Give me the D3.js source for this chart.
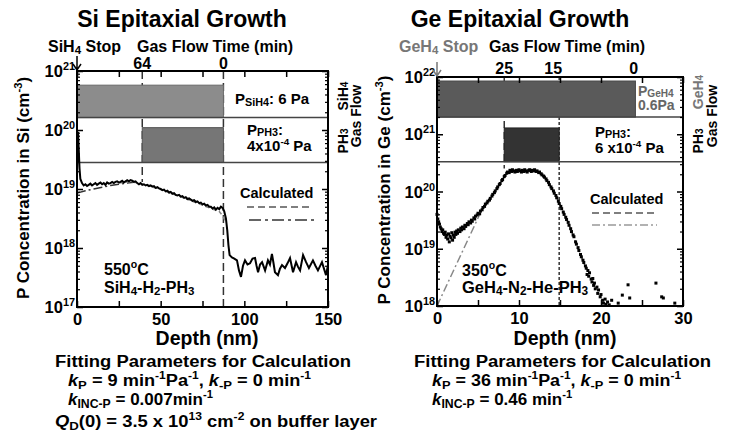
<!DOCTYPE html>
<html lang="en">
<head>
<meta charset="UTF-8">
<title>P doping in Si and Ge epitaxial growth</title>
<script src="https://d3js.org/d3.v7.min.js"></script>
<style>
    body{margin:0;background:#fff;}
    svg{display:block;font-family:"Liberation Sans",Arial,sans-serif;font-weight:bold;}
</style>
</head>
<body>
<svg width="731" height="443"></svg>
<script>
// measured SIMS profiles: [depth (nm), log10 P concentration (cm-3)]
let siMeasured = [[0,19.3],[0.3,19.8],[0.6,19.97],[1,19.7],[1.5,19.35],[2,19.17],[3,19.1],[4,19.06],[5,19.08],[6,19.05],
    [7,19.07],[8,19.09],[9,19.06],[10,19.08],[11,19.1],[12,19.07],[13,19.09],[14,19.11],[15,19.08],[16,19.1],
    [17,19.07],[18,19.11],[19,19.09],[20,19.1],[21,19.12],[22,19.1],[23,19.12],[24,19.13],[25,19.11],[26,19.12],
    [27,19.14],[28,19.11],[29,19.13],[30,19.15],[31,19.13],[32,19.15],[33,19.14],[34,19.12],[35,19.13],[36,19.1],
    [37,19.08],[38,19.1],[39,19.07],[40,19.08],[41,19.06],[42,19.07],[43,19.05],[44,19.06],[45,19.04],[46,19.05],
    [47,19.02],[48,19.03],[49,19.01],[50,19.0],[51,18.98],[52,18.99],[53,18.96],[54,18.97],[55,18.94],[56,18.95],
    [57,18.92],[58,18.93],[59,18.9],[60,18.89],[61,18.9],[62,18.87],[63,18.88],[64,18.85],[65,18.86],[66,18.83],
    [67,18.84],[68,18.82],[69,18.8],[70,18.81],[71,18.78],[72,18.79],[73,18.76],[74,18.77],[75,18.74],[76,18.75],
    [77,18.72],[78,18.73],[79,18.7],[80,18.7],[81,18.67],[82,18.69],[83,18.65],[84,18.68],[85,18.66],[86,18.7],
    [87,18.68],[88,18.62],[89,18.5],[89.8,18.3],[90.5,18.05],[91.2,17.88],[92.6,17.84],[94,17.82],[95.6,17.79],[96.8,17.62],
    [98,17.51],[99.2,17.7],[100.4,17.79],[101.9,17.72],[103.4,17.74],[104.9,17.82],[106.4,17.83],[107.3,17.7],[108.2,17.59],[109.4,17.72],
    [110.6,17.76],[112.4,17.62],[114.1,17.79],[115.3,17.72],[116.5,17.9],[117.4,17.75],[118.3,17.59],[120.1,17.54],[121.3,17.65],[122.5,17.71],
    [124.3,17.66],[125.8,17.74],[127.3,17.83],[129.1,17.59],[130.9,17.76],[132.1,17.68],[133.3,17.62],[135.1,17.88],[136.9,17.76],[138.6,17.66],
    [141,17.79],[142.5,17.7],[144,17.62],[146.4,17.76],[148.8,17.54],[150,17.71]];

let geMeasured = [[0,19.60],[0.1,19.52],[0.2,19.47],[0.3,19.43],[0.4,19.38],[0.5,19.35],[0.6,19.30],[0.7,19.33],[0.8,19.27],[0.9,19.25],
    [1.0,19.29],[1.1,19.20],[1.2,19.24],[1.3,19.17],[1.4,19.26],[1.5,19.12],[1.6,19.22],[1.7,19.19],[1.8,19.28],[1.9,19.15],
    [2.0,19.24],[2.1,19.20],[2.2,19.29],[2.3,19.25],[2.4,19.31],[2.5,19.27],[2.6,19.33],[2.8,19.30],[2.9,19.36],[3.0,19.33],
    [3.1,19.38],[3.3,19.35],[3.4,19.41],[3.5,19.39],[3.7,19.44],[3.8,19.42],[3.9,19.47],[4.1,19.45],[4.2,19.50],[4.3,19.48],
    [4.5,19.54],[4.6,19.52],[4.7,19.57],[4.9,19.59],[5.0,19.62],[5.2,19.61],[5.3,19.66],[5.5,19.68],[5.6,19.72],[5.8,19.74],
    [5.9,19.78],[6.1,19.80],[6.2,19.83],[6.4,19.85],[6.5,19.88],[6.7,19.92],[6.8,19.95],[7.0,19.98],[7.1,20.01],[7.3,20.05],
    [7.4,20.08],[7.6,20.12],[7.7,20.14],[7.9,20.19],[8.0,20.21],[8.2,20.26],[8.3,20.28],[8.5,20.32],[8.6,20.34],[8.8,20.33],
    [8.9,20.37],[9.1,20.35],[9.2,20.38],[9.4,20.36],[9.5,20.34],[9.7,20.37],[9.8,20.35],[10.0,20.38],[10.1,20.36],[10.3,20.34],
    [10.4,20.37],[10.6,20.35],[10.7,20.38],[10.9,20.36],[11.0,20.34],[11.2,20.37],[11.3,20.38],[11.5,20.35],[11.6,20.37],[11.8,20.36],
    [11.9,20.38],[12.1,20.35],[12.2,20.36],[12.4,20.33],[12.5,20.34],[12.7,20.31],[12.8,20.29],[13.0,20.27],[13.1,20.25],[13.3,20.22],
    [13.4,20.19],[13.6,20.16],[13.7,20.12],[13.9,20.08],[14.0,20.05],[14.2,20.01],[14.3,19.97],[14.5,19.93],[14.6,19.89],[14.8,19.83],
    [14.9,19.79],[15.1,19.74],[15.2,19.70],[15.4,19.64],[15.5,19.60],[15.7,19.55],[15.8,19.51],[16.0,19.46],[16.1,19.41],[16.3,19.35],
    [16.4,19.30],[16.6,19.24],[16.7,19.21],[16.9,19.12],[17.0,19.08],[17.2,19.02],[17.3,18.97],[17.5,18.90],[17.6,18.86],[17.8,18.80],
    [17.9,18.76],[18.1,18.70],[18.2,18.66],[18.3,18.55],[18.4,18.62],[18.5,18.52],[18.6,18.58],[18.8,18.47],[18.9,18.42],[19.0,18.48],
    [19.1,18.36],[19.2,18.40],[19.3,18.30],[19.5,18.33],[19.6,18.22],[19.7,18.28],[19.9,18.16],[20.0,18.20],[20.2,18.10],[20.3,18.05],
    [20.5,18.12],[20.6,18.03],[20.8,18.07],[21.0,18.02],[21.3,18.10],[22.1,18.05],[22.6,18.19],[23.3,18.37],[23.5,18.14],[26.7,18.40],
    [27.4,18.16],[27.6,18.14],[29.0,18.05]];

// calculated profiles: [depth (nm), log10 P concentration]
let siCalcDashDot = [[0,18.93],[5,18.97],[10,19.0],[15,19.03],[20,19.06],[25,19.08],[30,19.1],[36,19.12]];
let siCalcDashed = [[25,19.1],[30,19.12],[35,19.11],[40,19.08],[50,18.99],[60,18.89],[70,18.78],[80,18.67],[85,18.62],[87,18.55],[88.5,18.46]];
let geCalcDashDot = [[0,18.0],[5.6,19.72]];
let geCalcDashed = [[5.6,19.72],[6,19.78],[7,19.98],[8,20.21],[8.5,20.31],[9,20.35],[10,20.36],[11,20.36],[12,20.35],[12.5,20.33],
    [13,20.27],[13.5,20.18],[14,20.05],[14.5,19.92],[15,19.77],[15.5,19.61],[16,19.46],[16.5,19.27],[17,19.08],[17.5,18.9],[18,18.72]];

// gas flow time markers (min) and the depth where each lands
let siTimeLabels = ["64", "0"];
let siTimeDepth = [39, 87.5];
let geTimeLabels = ["25", "15", "0"];
let geTimeDepth = [8.2, 14.9, 24];

// gas flow bars: depth range and log10 band on the concentration axis
let siBars = [{gas: "SiH4", d: [0, 87.5], c: [20.21, 20.76]}, {gas: "PH3", d: [39, 87.5], c: [19.45, 20.04]}];
let geBars = [{gas: "GeH4", d: [0, 24.2], c: [21.30, 21.93]}, {gas: "PH3", d: [8.2, 14.9], c: [20.52, 21.11]}];

let svg = d3.select('svg');

// text with sub / superscripts and italics
function rich(g, x, y, parts, o) {
    o = o || {};
    let size = o.size || 14;
    let subK = o.subShift == null ? 0.28 : o.subShift;
    let t = g.append('text').attr('x', x).attr('y', y).attr('font-size', size).attr('fill', o.fill || '#000');
    if (o.anchor) t.attr('text-anchor', o.anchor);
    if (o.rotate) t.attr('transform', 'rotate(-90,' + x + ',' + y + ')');
    if (o.width) t.attr('textLength', o.width).attr('lengthAdjust', 'spacingAndGlyphs');
    let shift = 0;
    parts.forEach(function (p) {
        if (typeof p === 'string') p = {t: p};
        let target = 0, fs = size;
        if (p.sub) { target = size * subK; fs = size * 0.72; }
        if (p.sup) { target = -size * 0.42; fs = size * 0.66; }
        let s = t.append('tspan').text(p.t).attr('dy', target - shift).attr('font-size', fs);
        if (p.it) s.attr('font-style', 'italic');
        if (p.fill) s.attr('fill', p.fill);
        shift = target;
    });
    return t;
}

function drawPanel(cfg) {
    let g = svg.append('g');
    let x = d3.scaleLinear().domain(cfg.xDomain).range([cfg.left, cfg.right]);
    let y = d3.scaleLog().domain(cfg.yDomain).range([cfg.bottom, cfg.top]);
    let Y = function (v) { return y(Math.pow(10, v)); };

    // vertical markers for gas switching
    cfg.timeDepth.forEach(function (d, i) {
        g.append('line').attr('x1', x(d)).attr('x2', x(d))
            .attr('y1', cfg.top).attr('y2', cfg.markEnd[i] == null ? cfg.bottom : Y(cfg.markEnd[i]))
            .attr('stroke', '#333').attr('stroke-width', 1.5).attr('stroke-dasharray', cfg.markDash[i]);
    });

    // gas flow bars
    cfg.bars.forEach(function (b, i) {
        g.append('rect').attr('x', x(b.d[0])).attr('width', x(b.d[1]) - x(b.d[0]))
            .attr('y', Y(b.c[1])).attr('height', Y(b.c[0]) - Y(b.c[1]))
            .attr('fill', cfg.barFill[i]).attr('stroke', cfg.barStroke[i]).attr('stroke-width', 1);
        g.append('line').attr('x1', cfg.left).attr('x2', cfg.right)
            .attr('y1', Y(b.c[0])).attr('y2', Y(b.c[0]))
            .attr('stroke', '#444').attr('stroke-width', 1.5);
    });

    let line = d3.line().x(function (d) { return x(d[0]); }).y(function (d) { return Y(d[1]); });
    return {g: g, x: x, y: y, Y: Y, line: line};
}

function drawAxes(p, cfg) {
    let g = p.g;
    let decades = d3.range(Math.log10(cfg.yDomain[0]), Math.log10(cfg.yDomain[1]) + 1).map(function (e) { return Math.pow(10, e); });
    let minors = [];
    decades.slice(0, -1).forEach(function (d) { for (let k = 2; k < 10; k++) minors.push(d * k); });
    let xt = d3.range(cfg.xDomain[0], cfg.xDomain[1] + 0.001, cfg.xTick);

    [['axisLeft', cfg.left], ['axisRight', cfg.right]].forEach(function (a) {
        g.append('g').attr('transform', 'translate(' + a[1] + ',0)')
            .call(d3[a[0]](p.y).tickValues(minors).tickSize(-3).tickFormat(''))
            .call(function (s) { s.select('.domain').remove(); s.selectAll('line').attr('stroke-width', 1.2); });
        g.append('g').attr('transform', 'translate(' + a[1] + ',0)')
            .call(d3[a[0]](p.y).tickValues(decades).tickSize(-6).tickFormat(''))
            .call(function (s) { s.select('.domain').remove(); s.selectAll('line').attr('stroke-width', 1.5); });
    });
    [['axisBottom', cfg.bottom], ['axisTop', cfg.top]].forEach(function (a) {
        g.append('g').attr('transform', 'translate(0,' + a[1] + ')')
            .call(d3[a[0]](p.x).tickValues(xt).tickSize(-6).tickFormat(''))
            .call(function (s) { s.select('.domain').remove(); s.selectAll('line').attr('stroke-width', 1.5); });
    });
    g.append('rect').attr('x', cfg.left).attr('y', cfg.top)
        .attr('width', cfg.right - cfg.left).attr('height', cfg.bottom - cfg.top)
        .attr('fill', 'none').attr('stroke', '#000').attr('stroke-width', 2);

    // depth labels
    g.append('g').attr('transform', 'translate(0,' + cfg.bottom + ')')
        .call(d3.axisBottom(p.x).tickValues(d3.range(cfg.xDomain[0], cfg.xDomain[1] + 0.001, cfg.xLabelStep)).tickSize(0).tickPadding(6))
        .call(function (s) {
            s.select('.domain').remove();
            s.selectAll('text').attr('font-size', 16.5).attr('font-family', null).attr('fill', '#000');
        });
    // 10^n labels
    decades.forEach(function (d) {
        rich(g, cfg.left - 2, p.y(d) + 6, ['10', {t: String(Math.round(Math.log10(d))), sup: true}], {size: 16.5, anchor: 'end'});
    });
}

// ---------- Si panel ----------
let siCfg = {left: 77, right: 328, top: 71, bottom: 307, xDomain: [0, 150], yDomain: [1e17, 1e21],
    xTick: 25, xLabelStep: 50, timeDepth: siTimeDepth, markEnd: [19.12, null], markDash: ['8,4', '8,4'],
    bars: siBars, barFill: ['#8c8c8c', '#767676'], barStroke: ['#6a6a6a', '#555']};
let si = drawPanel(siCfg);
si.g.append('path').datum(siCalcDashDot).attr('d', si.line).attr('fill', 'none')
    .attr('stroke', '#333').attr('stroke-width', 1.5).attr('stroke-dasharray', '9,3,2,3');
si.g.append('path').datum(siCalcDashed).attr('d', si.line).attr('fill', 'none')
    .attr('stroke', '#888').attr('stroke-width', 1.5).attr('stroke-dasharray', '4,3');
si.g.append('path').datum(siMeasured).attr('d', si.line).attr('fill', 'none')
    .attr('stroke', '#000').attr('stroke-width', 2);
drawAxes(si, siCfg);

// ---------- Ge panel ----------
let geCfg = {left: 437, right: 683, top: 77, bottom: 306, xDomain: [0, 30], yDomain: [1e18, 1e22],
    xTick: 5, xLabelStep: 10, timeDepth: geTimeDepth.slice(0, 2), markEnd: [20.4, null], markDash: ['7,4', '3,2'],
    bars: geBars, barFill: ['#5a5a5a', '#333'], barStroke: ['#4a4a4a', '#222']};
let ge = drawPanel(geCfg);
ge.g.append('path').datum(geCalcDashDot).attr('d', ge.line).attr('fill', 'none')
    .attr('stroke', '#888').attr('stroke-width', 1.5).attr('stroke-dasharray', '8,3,2,3');
ge.g.append('path').datum(geCalcDashed).attr('d', ge.line).attr('fill', 'none')
    .attr('stroke', '#555').attr('stroke-width', 1.5).attr('stroke-dasharray', '5,3');
ge.g.selectAll('rect.pt').data(geMeasured).enter().append('rect').attr('class', 'pt')
    .attr('x', function (d) { return ge.x(d[0]) - 1.5; })
    .attr('y', function (d) { return ge.Y(d[1]) - 1.5; })
    .attr('width', 3).attr('height', 3).attr('fill', '#000');
drawAxes(ge, geCfg);

// ---------- titles and annotations ----------
let T = svg.append('g');
T.append('text').attr('x', 182).attr('y', 27).attr('text-anchor', 'middle').attr('font-size', 23).text('Si Epitaxial Growth');
T.append('text').attr('x', 520).attr('y', 27).attr('text-anchor', 'middle').attr('font-size', 23).text('Ge Epitaxial Growth');

rich(T, 48, 52, ['SiH', {t: '4', sub: true}, ' Stop'], {size: 16, subShift: 0.1});
rich(T, 137, 52, ['Gas Flow Time (min)'], {size: 16});
rich(T, 399, 52, ['GeH', {t: '4', sub: true}, ' Stop'], {size: 16, fill: '#777', subShift: 0.1});
rich(T, 489, 52, ['Gas Flow Time (min)'], {size: 16});

// arrows to the growth surface
[[siCfg, '#000'], [geCfg, '#777']].forEach(function (a) {
    let x0 = a[0].left, y1 = a[0].top;
    T.append('path').attr('d', 'M' + x0 + ',' + (y1 - 15) + 'V' + (y1 - 1) + 'M' + (x0 - 4) + ',' + (y1 - 7) + 'L' + x0 + ',' + (y1 - 1) + 'L' + (x0 + 4) + ',' + (y1 - 7))
        .attr('fill', 'none').attr('stroke', a[1]).attr('stroke-width', 1.5);
});

// time labels on top axis
siTimeLabels.forEach(function (t, i) {
    T.append('text').attr('x', si.x(siTimeDepth[i])).attr('y', siCfg.top - 2).attr('text-anchor', 'middle').attr('font-size', 16).text(t);
});
geTimeLabels.forEach(function (t, i) {
    T.append('text').attr('x', ge.x(geTimeDepth[i]) - (i === 1 ? 6 : 0)).attr('y', geCfg.top - 3).attr('text-anchor', 'middle').attr('font-size', 16).text(t);
});

// y axis titles
rich(T, 29, 188, ['P Concentration in Si (cm', {t: '-3', sup: true}, ')'], {size: 17, anchor: 'middle', rotate: true});
rich(T, 390, 190, ['P Concentration in Ge (cm', {t: '-3', sup: true}, ')'], {size: 17, anchor: 'middle', rotate: true});

// depth titles
T.append('text').attr('x', 207).attr('y', 345).attr('text-anchor', 'middle').attr('font-size', 19.5).text('Depth (nm)');
T.append('text').attr('x', 565).attr('y', 345).attr('text-anchor', 'middle').attr('font-size', 19.5).text('Depth (nm)');

// right-side gas flow labels
rich(T, 348, 96, ['SiH', {t: '4', sub: true}], {size: 14, anchor: 'middle', rotate: true, subShift: 0});
rich(T, 348, 141, ['PH', {t: '3', sub: true}], {size: 14, anchor: 'middle', rotate: true, subShift: 0});
rich(T, 361, 116, ['Gas Flow'], {size: 14, anchor: 'middle', rotate: true});
rich(T, 703, 92, ['GeH', {t: '4', sub: true}], {size: 14, anchor: 'middle', rotate: true, fill: '#777', subShift: 0});
rich(T, 703, 141, ['PH', {t: '3', sub: true}], {size: 14, anchor: 'middle', rotate: true, subShift: 0});
rich(T, 717, 116, ['Gas Flow'], {size: 14, anchor: 'middle', rotate: true});

// partial pressures
rich(T, 235, 104, ['P', {t: 'SiH4', sub: true}, ': 6 Pa'], {size: 15, subShift: 0.15});
rich(T, 247, 135, ['P', {t: 'PH3', sub: true}, ':'], {size: 15, subShift: 0.08});
rich(T, 247, 151, ['4x10', {t: '-4', sup: true}, ' Pa'], {size: 15});
rich(T, 638, 96, ['P', {t: 'GeH4', sub: true}], {size: 14, fill: '#666', subShift: 0.1});
rich(T, 638, 110, ['0.6Pa'], {size: 14, fill: '#666'});
rich(T, 595, 137, ['P', {t: 'PH3', sub: true}, ':'], {size: 15, subShift: 0.08});
rich(T, 595, 153, ['6 x10', {t: '-4', sup: true}, ' Pa'], {size: 15});

// legends
T.append('text').attr('x', 240).attr('y', 198).attr('font-size', 14.5).text('Calculated');
T.append('line').attr('x1', 247).attr('x2', 313).attr('y1', 207).attr('y2', 207).attr('stroke', '#555').attr('stroke-width', 1.5).attr('stroke-dasharray', '7,4');
T.append('line').attr('x1', 249).attr('x2', 316).attr('y1', 220).attr('y2', 220).attr('stroke', '#333').attr('stroke-width', 1.5).attr('stroke-dasharray', '12,4,3,4');
T.append('text').attr('x', 590).attr('y', 204).attr('font-size', 14.5).text('Calculated');
T.append('line').attr('x1', 592).attr('x2', 657).attr('y1', 213).attr('y2', 213).attr('stroke', '#555').attr('stroke-width', 1.5).attr('stroke-dasharray', '7,4');
T.append('line').attr('x1', 592).attr('x2', 657).attr('y1', 225).attr('y2', 225).attr('stroke', '#999').attr('stroke-width', 1.5).attr('stroke-dasharray', '8,3,2,3');

// growth conditions
rich(T, 104, 275, ['550', {t: 'o', sup: true}, 'C'], {size: 16});
rich(T, 104, 293, ['SiH', {t: '4', sub: true}, '-H', {t: '2', sub: true}, '-PH', {t: '3', sub: true}], {size: 16, subShift: 0.12});
rich(T, 462, 276, ['350', {t: 'o', sup: true}, 'C'], {size: 16});
rich(T, 462, 293, ['GeH', {t: '4', sub: true}, '-N', {t: '2', sub: true}, '-He-PH', {t: '3', sub: true}], {size: 16.5, subShift: 0.12});

// fitting parameters (condensed lettering, stretched to the measured widths)
rich(T, 55, 367, ['Fitting Parameters for Calculation'], {size: 16, width: 296});
rich(T, 68, 386, [{t: 'k', it: true}, {t: 'P', sub: true}, ' = 9 min', {t: '-1', sup: true}, 'Pa', {t: '-1', sup: true}, ', ', {t: 'k', it: true}, {t: '-P', sub: true}, ' = 0 min', {t: '-1', sup: true}], {size: 16, subShift: 0.18, width: 243});
rich(T, 68, 405, [{t: 'k', it: true}, {t: 'INC-P', sub: true}, ' = 0.007min', {t: '-1', sup: true}], {size: 17, subShift: 0.18});
rich(T, 55, 427, [{t: 'Q', it: true}, {t: 'D', sub: true}, '(0) = 3.5 x 10', {t: '13', sup: true}, ' cm', {t: '-2', sup: true}, ' on buffer layer'], {size: 16, subShift: 0.18, width: 322});
rich(T, 414, 367, ['Fitting Parameters for Calculation'], {size: 16, width: 297});
rich(T, 432, 386, [{t: 'k', it: true}, {t: 'P', sub: true}, ' = 36 min', {t: '-1', sup: true}, 'Pa', {t: '-1', sup: true}, ', ', {t: 'k', it: true}, {t: '-P', sub: true}, ' = 0 min', {t: '-1', sup: true}], {size: 16, subShift: 0.18, width: 249});
rich(T, 432, 405, [{t: 'k', it: true}, {t: 'INC-P', sub: true}, ' = 0.46 min', {t: '-1', sup: true}], {size: 17, subShift: 0.18});
</script>
</body>
</html>
